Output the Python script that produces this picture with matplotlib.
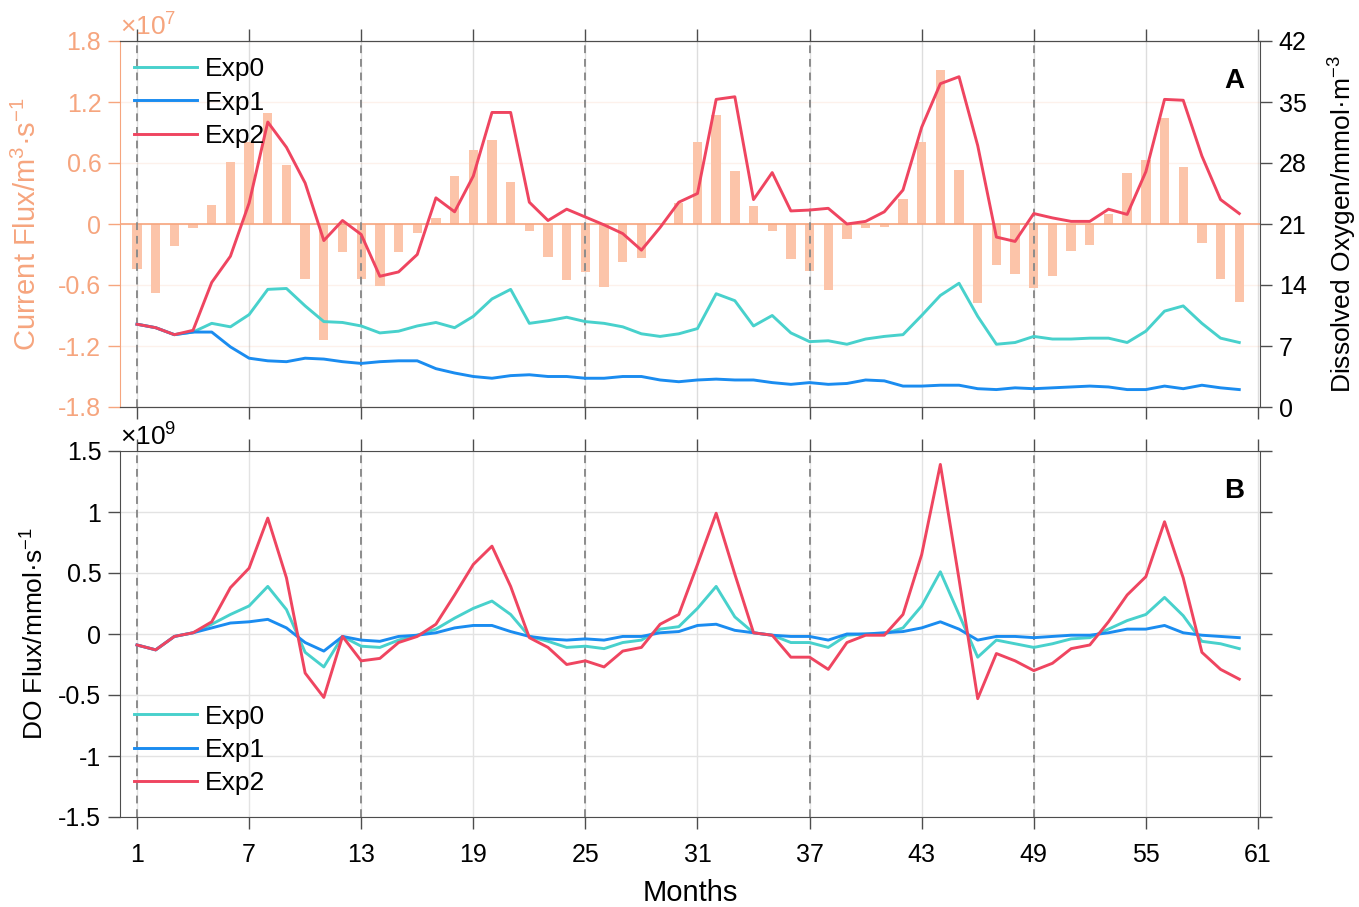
import matplotlib
matplotlib.use('Agg')
import matplotlib.pyplot as plt
import numpy as np

plt.rcParams['font.family'] = ['Liberation Sans', 'DejaVu Sans']
plt.rcParams['mathtext.fontset'] = 'custom'
plt.rcParams['mathtext.rm'] = 'Liberation Sans'
plt.rcParams['mathtext.it'] = 'Liberation Sans'
plt.rcParams['mathtext.default'] = 'regular'

# months 1..60
months = np.arange(1, 61)

# current flux (x1e7 m3/s)
cur_flux = [-0.44, -0.68, -0.22, -0.04, 0.19, 0.61, 0.81, 1.09, 0.58, -0.54,
            -1.14, -0.28, -0.54, -0.61, -0.28, -0.09, 0.06, 0.47, 0.73, 0.83,
            0.41, -0.07, -0.32, -0.55, -0.47, -0.62, -0.37, -0.33, 0.01, 0.21,
            0.81, 1.07, 0.52, 0.18, -0.07, -0.34, -0.46, -0.65, -0.15, -0.04,
            -0.03, 0.25, 0.81, 1.51, 0.53, -0.78, -0.40, -0.49, -0.63, -0.51,
            -0.27, -0.21, 0.10, 0.50, 0.63, 1.04, 0.56, -0.19, -0.54, -0.77]

# dissolved oxygen (mmol/m3)
exp0_do = [9.5, 9.1, 8.3, 8.6, 9.6, 9.2, 10.6, 13.5, 13.6, 11.6,
           9.8, 9.7, 9.3, 8.5, 8.7, 9.3, 9.7, 9.1, 10.4, 12.4,
           13.5, 9.6, 9.9, 10.3, 9.8, 9.6, 9.2, 8.4, 8.1, 8.4,
           9.0, 13.0, 12.2, 9.3, 10.5, 8.5, 7.5, 7.6, 7.2, 7.8,
           8.1, 8.3, 10.5, 12.8, 14.2, 10.4, 7.2, 7.4, 8.1, 7.8,
           7.8, 7.9, 7.9, 7.4, 8.7, 11.0, 11.6, 9.6, 7.9, 7.4]
exp1_do = [9.5, 9.1, 8.3, 8.6, 8.6, 6.9, 5.6, 5.3, 5.2, 5.6,
           5.5, 5.2, 5.0, 5.2, 5.3, 5.3, 4.4, 3.9, 3.5, 3.3,
           3.6, 3.7, 3.5, 3.5, 3.3, 3.3, 3.5, 3.5, 3.1, 2.9,
           3.1, 3.2, 3.1, 3.1, 2.8, 2.6, 2.8, 2.6, 2.7, 3.1,
           3.0, 2.4, 2.4, 2.5, 2.5, 2.1, 2.0, 2.2, 2.1, 2.2,
           2.3, 2.4, 2.3, 2.0, 2.0, 2.4, 2.1, 2.5, 2.2, 2.0]
exp2_do = [9.5, 9.1, 8.3, 8.8, 14.3, 17.3, 23.4, 32.7, 29.8, 25.7,
           19.1, 21.4, 19.8, 15.0, 15.5, 17.5, 24.0, 22.4, 26.5, 33.8,
           33.8, 23.5, 21.4, 22.7, 21.8, 20.9, 19.9, 18.0, 20.6, 23.5,
           24.5, 35.3, 35.6, 23.8, 26.9, 22.5, 22.6, 22.8, 21.0, 21.3,
           22.4, 24.9, 32.1, 37.1, 37.9, 30.0, 19.5, 19.0, 22.2, 21.7,
           21.3, 21.3, 22.7, 22.1, 27.0, 35.3, 35.2, 28.8, 23.8, 22.2]

# DO flux (x1e9 mmol/s)
exp0_flux = [-0.09, -0.13, -0.02, 0.01, 0.08, 0.16, 0.23, 0.39, 0.20, -0.15,
             -0.27, -0.02, -0.10, -0.11, -0.05, -0.01, 0.04, 0.13, 0.21, 0.27,
             0.16, -0.02, -0.06, -0.11, -0.10, -0.12, -0.07, -0.05, 0.04, 0.06,
             0.21, 0.39, 0.14, 0.01, -0.01, -0.07, -0.07, -0.11, -0.01, 0.0,
             0.0, 0.05, 0.23, 0.51, 0.16, -0.19, -0.05, -0.08, -0.11, -0.08,
             -0.04, -0.03, 0.04, 0.11, 0.16, 0.30, 0.15, -0.06, -0.08, -0.12]
exp1_flux = [-0.09, -0.13, -0.02, 0.01, 0.05, 0.09, 0.10, 0.12, 0.05, -0.07,
             -0.14, -0.02, -0.05, -0.06, -0.02, -0.01, 0.01, 0.05, 0.07, 0.07,
             0.02, -0.02, -0.04, -0.05, -0.04, -0.05, -0.02, -0.02, 0.01, 0.02,
             0.07, 0.08, 0.03, 0.01, -0.01, -0.02, -0.02, -0.05, 0.0, 0.0,
             0.01, 0.02, 0.05, 0.10, 0.04, -0.05, -0.02, -0.02, -0.03, -0.02,
             -0.01, -0.01, 0.01, 0.04, 0.04, 0.07, 0.01, -0.01, -0.02, -0.03]
exp2_flux = [-0.09, -0.13, -0.02, 0.01, 0.10, 0.38, 0.54, 0.95, 0.46, -0.32,
             -0.52, -0.02, -0.22, -0.20, -0.07, -0.02, 0.08, 0.32, 0.57, 0.72,
             0.39, -0.03, -0.11, -0.25, -0.22, -0.27, -0.14, -0.11, 0.08, 0.16,
             0.57, 0.99, 0.49, 0.01, -0.01, -0.19, -0.19, -0.29, -0.07, -0.01,
             -0.01, 0.16, 0.65, 1.39, 0.45, -0.53, -0.16, -0.22, -0.30, -0.24,
             -0.12, -0.09, 0.10, 0.32, 0.47, 0.92, 0.46, -0.15, -0.29, -0.37]

labels = ['Exp0', 'Exp1', 'Exp2']
xticks = [1, 7, 13, 19, 25, 31, 37, 43, 49, 55, 61]
year_marks = [1, 13, 25, 37, 49]

c0 = '#48D1CC'
c1 = '#1A8CF0'
c2 = '#EF4560'
salmon = '#F6A57E'
bar_col = '#FCC4A9'
spine_col = '#4D4D4D'
FS = 18      # tick labels
LFS = 19     # axis labels / legend

W, H = 1359, 907
fig = plt.figure(figsize=(W / 100, H / 100), dpi=100)
ax = fig.add_axes([120 / W, 1 - 407 / H, 1140 / W, 366 / H])
ax3 = fig.add_axes([120 / W, 1 - 817 / H, 1140 / W, 366 / H])
xlim = (0.09, 61.11)
leg_kw = dict(frameon=False, fontsize=LFS, handlelength=2.4, handletextpad=0.28,
              labelspacing=0.35, borderpad=0, borderaxespad=0)

# --- panel A ---
ax.bar(months, cur_flux, width=0.5, color=bar_col, zorder=2)
ax.axhline(0, color=salmon, lw=1.2, zorder=2)
ax.set_xlim(*xlim)
ax.set_ylim(-1.8, 1.8)
ax.set_yticks([-1.8, -1.2, -0.6, 0, 0.6, 1.2, 1.8])
ax.set_yticklabels(['-1.8', '-1.2', '-0.6', '0', '0.6', '1.2', '1.8'])
ax.set_xticks(xticks)
ax.grid(axis='y', color=salmon, alpha=0.15, lw=1)
ax.grid(axis='x', color='#dddddd', lw=1)
ax.set_axisbelow(True)
ax.tick_params(axis='x', direction='out', top=True, bottom=True, labelbottom=False,
               length=8.5, width=1, color=spine_col)
ax.tick_params(axis='y', direction='out', length=8.5, width=1, colors=salmon,
               labelsize=FS, pad=5)
ax.spines['left'].set_color(salmon)
ax.spines['right'].set_visible(False)
ax.spines['top'].set_color(spine_col)
ax.spines['bottom'].set_color(spine_col)
ax.set_ylabel('Current Flux/m$^{3}$·s$^{-1}$', color=salmon, fontsize=LFS + 2)
ax.yaxis.set_label_coords(-0.068, 0.5)
ax.text(0.0, 1.0, r'$\times10^{7}$', transform=ax.transAxes, color=salmon,
        fontsize=LFS, ha='left', va='bottom')

ax2 = ax.twinx()
for m in year_marks:
    ax2.axvline(m, color='#8c8c8c', ls=(0, (4, 3)), lw=1.4, zorder=1)
ax2.plot(months, exp0_do, color=c0, lw=2.1, label=labels[0], zorder=3)
ax2.plot(months, exp1_do, color=c1, lw=2.1, label=labels[1], zorder=3)
ax2.plot(months, exp2_do, color=c2, lw=2.1, label=labels[2], zorder=3)
ax2.set_xlim(*xlim)
ax2.set_ylim(0, 42)
ax2.set_yticks(np.arange(0, 43, 7))
ax2.tick_params(axis='y', direction='out', length=8.5, width=1, color=spine_col,
                labelsize=FS, pad=5)
ax2.spines['left'].set_visible(False)
ax2.spines['right'].set_color(spine_col)
ax2.spines['top'].set_color(spine_col)
ax2.spines['bottom'].set_color(spine_col)
ax2.set_ylabel('Dissolved Oxygen/mmol·m$^{-3}$', fontsize=LFS)
ax2.yaxis.set_label_coords(1.059, 0.5)
ax2.legend(loc='upper left', bbox_to_anchor=(0.012, 0.955), **leg_kw)
ax2.text(0.986, 0.925, 'A', transform=ax2.transAxes, fontsize=LFS + 1,
         fontweight='bold', ha='right', va='top')

# --- panel B ---
for m in year_marks:
    ax3.axvline(m, color='#8c8c8c', ls=(0, (4, 3)), lw=1.4, zorder=1)
ax3.plot(months, exp0_flux, color=c0, lw=2.1, label=labels[0], zorder=3)
ax3.plot(months, exp1_flux, color=c1, lw=2.1, label=labels[1], zorder=3)
ax3.plot(months, exp2_flux, color=c2, lw=2.1, label=labels[2], zorder=3)
ax3.set_xlim(*xlim)
ax3.set_ylim(-1.5, 1.5)
ax3.set_yticks([-1.5, -1, -0.5, 0, 0.5, 1, 1.5])
ax3.set_yticklabels(['-1.5', '-1', '-0.5', '0', '0.5', '1', '1.5'])
ax3.set_xticks(xticks)
ax3.grid(color='#e3e3e3', lw=1)
ax3.set_axisbelow(True)
ax3.tick_params(direction='out', top=True, right=True, length=8.5, width=1,
                color=spine_col, labelsize=FS, pad=5)
ax3.tick_params(axis='x', pad=10)
for s in ax3.spines.values():
    s.set_color(spine_col)
ax3.set_ylabel('DO Flux/mmol·s$^{-1}$', fontsize=LFS)
ax3.yaxis.set_label_coords(-0.063, 0.5)
ax3.set_xlabel('Months', fontsize=LFS + 2, labelpad=9)
ax3.text(0.0, 1.0, r'$\times10^{9}$', transform=ax3.transAxes,
         fontsize=LFS, ha='left', va='bottom')
ax3.legend(loc='lower left', bbox_to_anchor=(0.012, 0.06), **leg_kw)
ax3.text(0.986, 0.925, 'B', transform=ax3.transAxes, fontsize=LFS + 1,
         fontweight='bold', ha='right', va='top')

fig.savefig('out.png', dpi=100)
